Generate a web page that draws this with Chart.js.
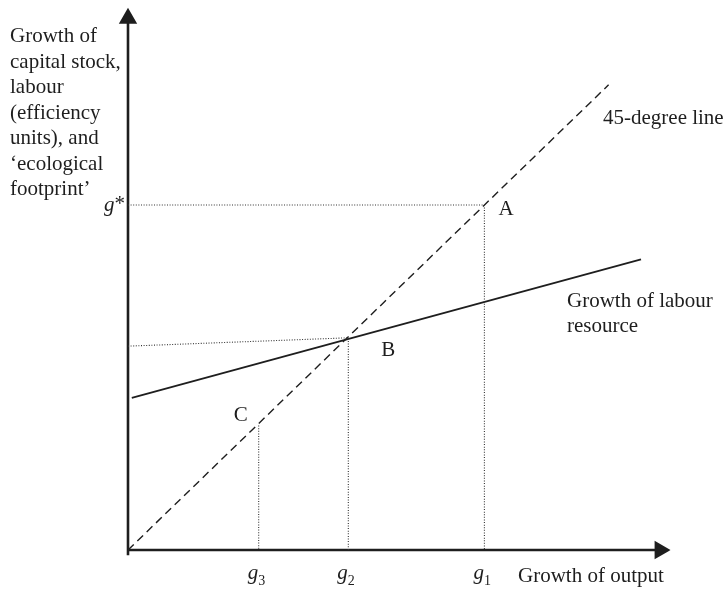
<!DOCTYPE html>
<html>
<head>
<meta charset="utf-8">
<script src="https://cdn.jsdelivr.net/npm/chart.js@4"></script>
<style>
  html, body { margin: 0; padding: 0; background: #fff; }
  #wrap { width: 727px; height: 589px; position: relative; }
</style>
</head>
<body>
<div id="wrap"><canvas id="growth"></canvas></div>
<script>
// points on the 45-degree line
var pointNames = ['A', 'B', 'C'];
var pointX = [6.6, 4.08, 2.42];
var pointY = [6.6, 4.06, 2.38];

// tick labels under the x axis (g1, g2, g3) sit at the point x values
var tickBase = 'g';
var tickSubs = ['1', '2', '3'];

// 45-degree line and growth of labour resource
var diagX = [0, 8.9];
var diagY = [0, 8.9];
var labourX = [0.07, 9.5];
var labourY = [2.91, 5.56];

// where the dotted guide from B meets the y axis
var guideBStartY = 3.9;

// axis ends (arrow heads)
var axisXEnd = 9.85;
var axisYEnd = 10.17;

var ink = '#1e1e1e';
var FONT = '"Liberation Serif", "Times New Roman", serif';

function pts(xs, ys) {
	var out = [];
	for (var i = 0; i < xs.length; i++) {
		out.push({ x: xs[i], y: ys[i] });
	}
	return out;
}

var guideStyle = {
	showLine: true,
	borderColor: '#333',
	borderWidth: 1.1,
	borderDash: [1, 1.6],
	pointRadius: 0,
	clip: false,
};

var datasets = [
	// A guides
	Object.assign({
		data: pts([0, pointX[0], pointX[0]], [pointY[0], pointY[0], 0]),
	}, guideStyle),
	// B guides
	Object.assign({
		data: pts([0, pointX[1], pointX[1]], [guideBStartY, pointY[1], 0]),
	}, guideStyle),
	// C guide
	Object.assign({
		data: pts([pointX[2], pointX[2]], [pointY[2], 0]),
	}, guideStyle),
	// 45-degree line
	{
		data: pts(diagX, diagY),
		showLine: true,
		borderColor: ink,
		borderWidth: 1.4,
		borderDash: [8, 5],
		pointRadius: 0,
		clip: false,
	},
	// growth of labour resource
	{
		data: pts(labourX, labourY),
		showLine: true,
		borderColor: ink,
		borderWidth: 1.8,
		pointRadius: 0,
		clip: false,
	},
	// x axis
	{
		data: pts([0, axisXEnd], [0, 0]),
		showLine: true,
		borderColor: ink,
		borderWidth: 2.6,
		pointRadius: [0, 8],
		pointStyle: 'triangle',
		rotation: 90,
		pointBackgroundColor: ink,
		pointBorderColor: ink,
		clip: false,
	},
	// y axis
	{
		data: pts([0, 0], [-0.1, axisYEnd]),
		showLine: true,
		borderColor: ink,
		borderWidth: 2.6,
		pointRadius: [0, 8],
		pointStyle: 'triangle',
		rotation: 0,
		pointBackgroundColor: ink,
		pointBorderColor: ink,
		clip: false,
	},
];

// text labels
var textPlugin = {
	id: 'textLabels',
	afterDatasetsDraw: function (chart) {
		var ctx = chart.ctx;
		var sx = chart.scales.x;
		var sy = chart.scales.y;
		ctx.save();
		ctx.fillStyle = ink;
		ctx.textBaseline = 'alphabetic';
		ctx.font = '21px ' + FONT;

		// y axis title
		var yTitle = ['Growth of', 'capital stock,', 'labour', '(efficiency', 'units), and', '\u2018ecological', 'footprint\u2019'];
		ctx.textAlign = 'left';
		for (var i = 0; i < yTitle.length; i++) {
			ctx.fillText(yTitle[i], 10, 42 + i * 25.5);
		}

		// x axis title
		ctx.fillText('Growth of output', 518, 582);

		// line labels
		ctx.fillText('45-degree line', 603, 124);
		ctx.fillText('Growth of labour', 567, 307);
		ctx.fillText('resource', 567, 332);

		// point labels A, B, C
		var offs = [[14, 10], [33, 18], [-25, -5]];
		for (var p = 0; p < pointNames.length; p++) {
			var px = sx.getPixelForValue(pointX[p]);
			var py = sy.getPixelForValue(pointY[p]);
			ctx.fillText(pointNames[p], px + offs[p][0], py + offs[p][1]);
		}

		// g1, g2, g3 under the x axis
		for (var t = 0; t < tickSubs.length; t++) {
			var gx = sx.getPixelForValue(pointX[t]) - 11;
			ctx.font = 'italic 21px ' + FONT;
			ctx.fillText(tickBase, gx, 579);
			var w = ctx.measureText(tickBase).width;
			ctx.font = '14px ' + FONT;
			ctx.fillText(tickSubs[t], gx + w, 585);
		}

		// g* on the y axis
		var gy = sy.getPixelForValue(pointY[0]);
		ctx.font = '21px ' + FONT;
		var starW = ctx.measureText('*').width;
		ctx.fillText('*', 125 - starW, gy + 5);
		ctx.font = 'italic 21px ' + FONT;
		var gW = ctx.measureText(tickBase).width;
		ctx.fillText(tickBase, 125 - starW - gW, gy + 6);

		ctx.restore();
	},
};

var ctx0 = document.getElementById('growth').getContext('2d');
var chart0 = new Chart(ctx0, {
	type: 'scatter',
	data: { datasets: datasets },
	options: {
		responsive: true,
		maintainAspectRatio: false,
		animation: false,
		layout: { padding: { left: 128, right: 59, top: 8, bottom: 39 } },
		scales: {
			x: { type: 'linear', min: 0, max: 10, display: false },
			y: { type: 'linear', min: 0, max: 10.32, display: false },
		},
		plugins: {
			legend: { display: false },
			tooltip: { enabled: false },
		},
	},
	plugins: [textPlugin],
});
</script>
</body>
</html>
